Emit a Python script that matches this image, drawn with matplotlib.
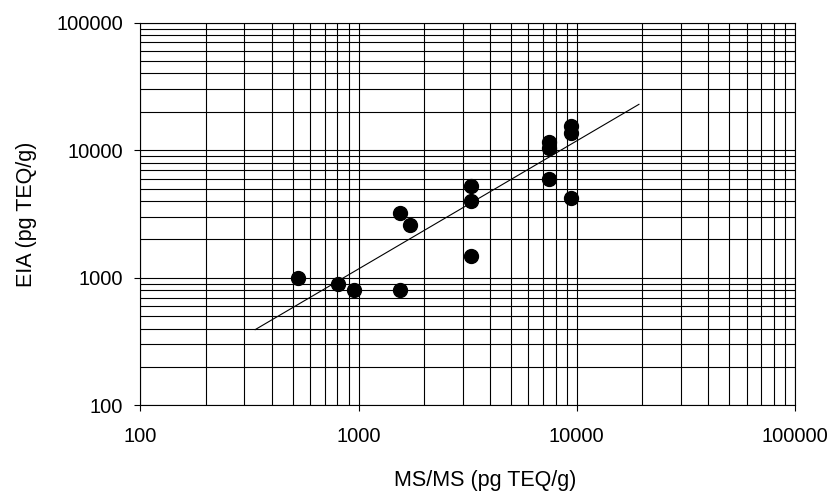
import numpy as np
import matplotlib.pyplot as plt
from matplotlib.ticker import LogLocator, FixedFormatter, NullFormatter

plt.rcParams['font.family'] = ['Liberation Sans', 'DejaVu Sans']

# MS/MS vs EIA results (pg TEQ/g)
ms_ms = [529, 807, 953, 1542, 1542, 1718, 3290, 3290, 3290,
         7480, 7480, 7480, 9420, 9420, 9420]
eia = [1000, 898, 795, 795, 3230, 2590, 5250, 4020, 1490,
       11600, 10500, 6000, 15600, 13700, 4250]

# fitted trend line end points
trend_x = [336, 19270]
trend_y = [392, 22900]

tick_vals = [100, 1000, 10000, 100000]
tick_labels = ['100', '1000', '10000', '100000']

fig = plt.figure(figsize=(8.32, 4.94), dpi=100)
ax = fig.add_axes([140.3 / 832, 1 - 405.3 / 494, (795 - 140.3) / 832, (405.3 - 22.7) / 494])

ax.set_xscale('log')
ax.set_yscale('log')
ax.set_xlim(100, 100000)
ax.set_ylim(100, 100000)

ax.plot(trend_x, trend_y, color='black', linewidth=0.8, zorder=3)
ax.plot(ms_ms, eia, linestyle='none', marker='o', markersize=10,
        color='black', zorder=4)

ax.set_xticks(tick_vals)
ax.set_xticklabels(tick_labels)
ax.set_yticks(tick_vals)
ax.set_yticklabels(tick_labels)
for axis in (ax.xaxis, ax.yaxis):
    axis.set_minor_locator(LogLocator(base=10, subs=np.arange(2, 10)))
    axis.set_minor_formatter(NullFormatter())

ax.grid(True, which='both', color='black', linewidth=0.8)
ax.set_axisbelow(True)
ax.tick_params(which='major', direction='out', length=4.3, width=0.8,
               labelsize=14.5, color='black')
ax.tick_params(axis='x', which='major', pad=11)
ax.tick_params(axis='y', which='major', pad=8)
ax.tick_params(which='minor', length=0)
for s in ax.spines.values():
    s.set_linewidth(0.8)
    s.set_color('black')

ax.set_ylabel('EIA (pg TEQ/g)', fontsize=15.5, labelpad=14)
fig.text(485 / 832, 14 / 494, 'MS/MS (pg TEQ/g)', fontsize=15.5,
         ha='center', va='center')

fig.savefig('out.png', dpi=100)
